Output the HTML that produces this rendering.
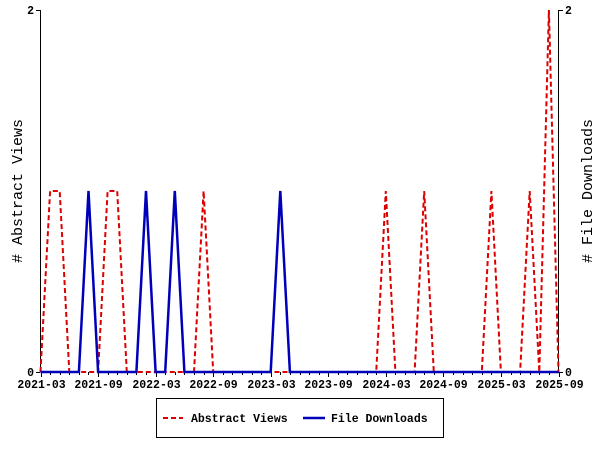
<!DOCTYPE html>
<html><head><meta charset="utf-8"><style>
html,body{margin:0;padding:0;background:#fff;width:600px;height:450px;overflow:hidden}
text{font-family:"Liberation Mono","DejaVu Sans Mono",monospace;font-weight:bold;font-size:11.5px;fill:#000}
</style></head><body>
<svg width="600" height="450" viewBox="0 0 600 450" xmlns="http://www.w3.org/2000/svg">
<rect width="600" height="450" fill="#fff"/>
<g id="ticks" stroke="#000" stroke-width="1"></g>
<line x1="40.5" y1="10" x2="40.5" y2="372" stroke="#000"/>
<line x1="558.5" y1="10" x2="558.5" y2="372" stroke="#000"/>
<line x1="36" y1="10.5" x2="40" y2="10.5" stroke="#000"/>
<line x1="36" y1="372.5" x2="40" y2="372.5" stroke="#000"/>
<line x1="558" y1="10.5" x2="563" y2="10.5" stroke="#000"/>
<line x1="558" y1="372.5" x2="563" y2="372.5" stroke="#000"/>
<text x="34" y="14" text-anchor="end">2</text>
<text x="34" y="376" text-anchor="end">0</text>
<text x="565" y="14">2</text>
<text x="565" y="376">0</text>
<text transform="translate(22,191) rotate(-90)" text-anchor="middle" style="font-size:15px;font-weight:normal">#  Abstract Views</text>
<text transform="translate(592,191) rotate(-90)" text-anchor="middle" style="font-size:15px;font-weight:normal">#  File Downloads</text>
<g id="lbl"></g>
<polyline id="red" fill="none" stroke="#dd0000" stroke-width="2" stroke-dasharray="5,3"/>
<polyline id="blue" fill="none" stroke="#0000bb" stroke-width="2.5"/>
<rect x="156.5" y="398.5" width="287" height="39" fill="none" stroke="#000"/>
<line x1="163" y1="418" x2="183" y2="418" stroke="#dd0000" stroke-width="2" stroke-dasharray="5,3"/>
<text x="191" y="422">Abstract Views</text>
<line x1="303" y1="418" x2="325" y2="418" stroke="#0000bb" stroke-width="2.5"/>
<text x="331" y="422">File Downloads</text>
</svg>
<script>
var x0=40.5,dx=518/54,ns="http://www.w3.org/2000/svg";
var tk=document.getElementById('ticks'),lb=document.getElementById('lbl');
var labs=["2021-03","2021-09","2022-03","2022-09","2023-03","2023-09","2024-03","2024-09","2025-03","2025-09"];
for(var i=0;i<=54;i++){var x=Math.round(x0+i*dx)+0.5;var l=document.createElementNS(ns,'line');
l.setAttribute('x1',x);l.setAttribute('x2',x);l.setAttribute('y1',372);l.setAttribute('y2',i%6==0?377:375);tk.appendChild(l);
if(i%6==0){var t=document.createElementNS(ns,'text');t.setAttribute('x',x);t.setAttribute('y',388);t.setAttribute('text-anchor','middle');t.textContent=labs[i/6];lb.appendChild(t);}}
var red=new Array(55).fill(0),blue=new Array(55).fill(0);
red[1]=1;red[2]=1;red[7]=1;red[8]=1;red[17]=1;red[36]=1;red[40]=1;red[47]=1;red[51]=1;red[53]=2;
blue[5]=1;blue[11]=1;blue[14]=1;blue[25]=1;
function pts(a){return a.map(function(v,i){return (x0+i*dx).toFixed(1)+','+(372-v*181).toFixed(1)}).join(' ')}
document.getElementById('red').setAttribute('points',pts(red));
document.getElementById('blue').setAttribute('points',pts(blue));
</script>
</body></html>
